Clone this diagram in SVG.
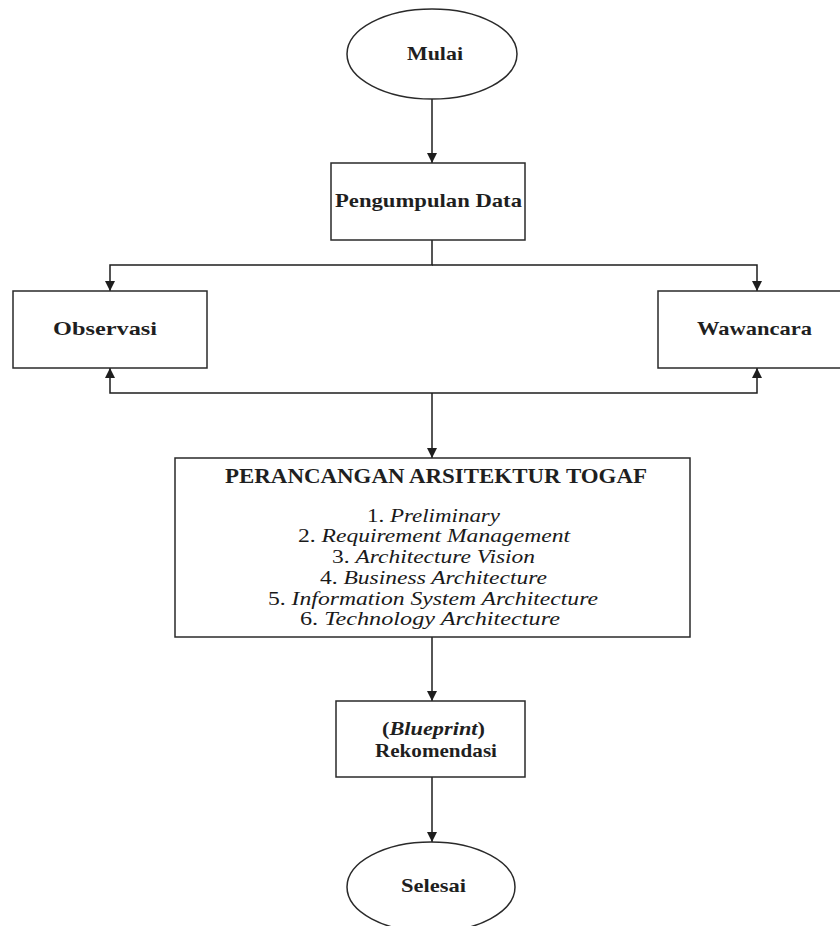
<svg xmlns="http://www.w3.org/2000/svg" width="840" height="926" viewBox="0 0 840 926">
  <style>
    .shape { fill: #ffffff; stroke: #2a2a2a; stroke-width: 1.5; }
    .edge { fill: none; stroke: #1e1e1e; stroke-width: 1.5; }
    .label { font-family: "Liberation Serif", "Times New Roman", serif; font-weight: bold; font-size: 19px; fill: #1f1f1f; text-anchor: middle; }
    .title { font-size: 21px; }
    .item { font-family: "Liberation Serif", "Times New Roman", serif; font-size: 19px; fill: #1a1a1a; text-anchor: middle; }
    .it { font-style: italic; }
  </style>
  <defs>
    <marker id="arrow" viewBox="0 0 10 10" refX="10" refY="5" markerWidth="10" markerHeight="10" markerUnits="userSpaceOnUse" orient="auto">
      <path d="M0,0 L10,5 L0,10 z" fill="#1e1e1e"/>
    </marker>
  </defs>
  <rect width="840" height="926" fill="#ffffff"/>

  <g id="connectors">
    <line class="edge" x1="432" y1="99" x2="432" y2="163" marker-end="url(#arrow)"/>
    <polyline class="edge" points="432,240 432,265 110,265 110,291" marker-end="url(#arrow)"/>
    <polyline class="edge" points="432,265 757,265 757,291" marker-end="url(#arrow)"/>
    <polyline class="edge" points="432,393 110,393 110,368" marker-end="url(#arrow)"/>
    <polyline class="edge" points="432,393 757,393 757,368" marker-end="url(#arrow)"/>
    <line class="edge" x1="432" y1="393" x2="432" y2="458" marker-end="url(#arrow)"/>
    <line class="edge" x1="432" y1="637" x2="432" y2="701" marker-end="url(#arrow)"/>
    <line class="edge" x1="432" y1="777" x2="432" y2="842" marker-end="url(#arrow)"/>
  </g>

  <g id="mulai">
    <ellipse class="shape" cx="432" cy="54" rx="85" ry="45"/>
    <text class="label" x="435" y="60" textLength="56" lengthAdjust="spacingAndGlyphs">Mulai</text>
  </g>

  <g id="pengumpulan-data">
    <rect class="shape" x="331" y="163" width="194" height="77"/>
    <text class="label" x="428.5" y="207" textLength="187" lengthAdjust="spacingAndGlyphs">Pengumpulan Data</text>
  </g>

  <g id="observasi">
    <rect class="shape" x="13" y="291" width="194" height="77"/>
    <text class="label" x="105" y="335" textLength="104" lengthAdjust="spacingAndGlyphs">Observasi</text>
  </g>

  <g id="wawancara">
    <rect class="shape" x="658" y="291" width="198" height="77"/>
    <text class="label" x="754.5" y="335" textLength="115" lengthAdjust="spacingAndGlyphs">Wawancara</text>
  </g>

  <g id="perancangan-togaf">
    <rect class="shape" x="175" y="458" width="515" height="179"/>
    <text class="label title" x="436" y="483" textLength="422" lengthAdjust="spacingAndGlyphs">PERANCANGAN ARSITEKTUR TOGAF</text>
    <text class="item" x="433.5" y="522" textLength="133" lengthAdjust="spacingAndGlyphs">1. <tspan class="it">Preliminary</tspan></text>
    <text class="item" x="434" y="542" textLength="272" lengthAdjust="spacingAndGlyphs">2. <tspan class="it">Requirement Management</tspan></text>
    <text class="item" x="433.5" y="563" textLength="203" lengthAdjust="spacingAndGlyphs">3. <tspan class="it">Architecture Vision</tspan></text>
    <text class="item" x="433.5" y="584" textLength="227" lengthAdjust="spacingAndGlyphs">4. <tspan class="it">Business Architecture</tspan></text>
    <text class="item" x="433" y="605" textLength="330" lengthAdjust="spacingAndGlyphs">5. <tspan class="it">Information System Architecture</tspan></text>
    <text class="item" x="430" y="625" textLength="260" lengthAdjust="spacingAndGlyphs">6. <tspan class="it">Technology Architecture</tspan></text>
  </g>

  <g id="rekomendasi">
    <rect class="shape" x="336" y="701" width="189" height="76"/>
    <text class="label" x="433.5" y="735" textLength="103" lengthAdjust="spacingAndGlyphs">(<tspan class="it">Blueprint</tspan>)</text>
    <text class="label" x="436" y="757" textLength="122" lengthAdjust="spacingAndGlyphs">Rekomendasi</text>
  </g>

  <g id="selesai">
    <ellipse class="shape" cx="431" cy="887" rx="84" ry="45"/>
    <text class="label" x="433.5" y="892" textLength="65" lengthAdjust="spacingAndGlyphs">Selesai</text>
  </g>
</svg>
